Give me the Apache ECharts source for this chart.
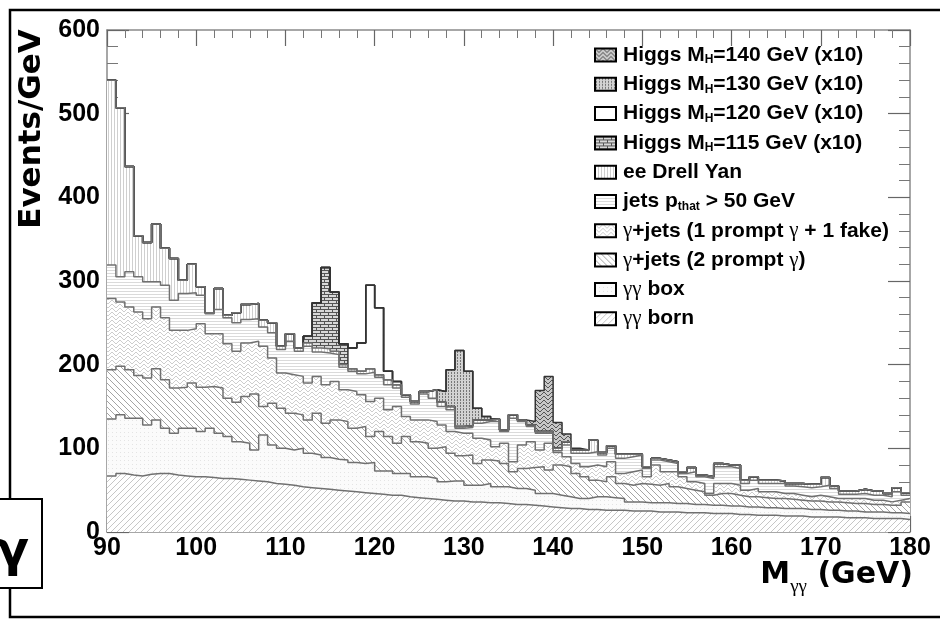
<!DOCTYPE html>
<html><head><meta charset="utf-8">
<script src="https://cdn.jsdelivr.net/npm/echarts/dist/echarts.min.js"></script>
<style>html,body{margin:0;padding:0;background:#fff}#c{width:940px;height:621px}</style>
</head><body><div id="c"></div>
<script>
// ---- DATA (cumulative stack tops, 1 GeV bins from 90 to 180 GeV) ----
const binLow = 90, binWidth = 1;
const xTicks = [90,100,110,120,130,140,150,160,170,180];
const yTicks = [0,100,200,300,400,500,600];

const bornTop = [67,70,68,67,69,70,70,68,67,66,66,65,64,64,63,62,61,60,
 58,57,56,54,53,52,51,50,49,48,47,46,45,44,44,42,41,40,
 39,38,37,37,36,36,35,35,34,33,33,32,31,30,29,28,28,27,
 27,26,26,26,25,25,25,24,24,24,23,23,23,22,22,22,21,21,
 20,20,20,19,19,19,18,18,18,18,17,17,17,16,16,16,16,15];
const boxTop = [135,140,136,136,128,134,124,118,124,124,120,124,118,114,108,106,98,116,
 104,100,98,100,94,92,89,87,86,83,82,83,73,73,70,70,66,66,
 64,60,61,61,56,56,58,54,54,52,52,50,46,46,44,42,40,40,
 42,42,41,40,36,36,35,35,35,34,34,33,33,32,32,31,31,30,
 30,29,29,28,28,28,27,27,26,26,25,25,24,24,24,23,23,22];
const prompt2Top = [194,198,194,187,184,195,182,172,173,178,173,174,172,160,155,162,165,150,
 154,148,142,140,134,142,130,134,132,124,126,114,120,114,106,114,108,106,
 100,102,94,91,92,82,86,85,82,72,76,77,78,74,80,78,70,66,
 62,60,66,58,56,58,57,56,58,54,52,50,48,44,46,46,44,42,
 42,41,40,40,39,38,37,37,36,36,35,34,34,33,33,32,32,36];
const fake1Top = [279,275,269,263,255,269,256,241,241,243,249,237,237,225,216,226,228,222,
 208,190,188,186,178,186,176,180,170,168,164,156,160,146,150,138,134,134,
 132,128,120,118,118,112,110,102,106,84,104,108,98,106,95,90,82,78,
 80,78,84,70,72,74,66,80,72,72,66,60,58,46,58,58,56,50,
 52,48,48,46,46,44,42,44,42,40,40,40,40,38,38,36,38,40];
const jetsTop = [319,305,311,305,299,299,295,277,285,286,283,261,266,256,250,254,255,245,
 238,218,228,216,222,215,214,212,197,192,189,191,185,176,172,161,153,165,
 160,150,146,124,125,130,132,132,120,136,132,126,118,118,97,104,94,94,
 96,92,100,88,90,92,76,86,84,82,70,72,66,64,78,78,76,58,
 62,58,58,58,55,54,53,54,56,52,45,45,46,44,44,42,48,44];
const dyTop = [540,507,437,354,346,368,339,327,301,320,293,262,291,259,262,272,273,253,
 250,222,237,220,226,220,219,216,200,195,192,195,188,182,176,164,156,168,
 170,155,150,126,127,134,134,135,122,140,134,128,120,120,100,108,98,98,
 110,95,103,93,93,93,78,88,86,84,72,77,68,66,82,80,80,62,
 66,62,62,61,58,58,57,57,65,55,49,49,51,49,49,46,53,47];
// Higgs signal stack tops (x10), only bins where they show
const h115Bins = [112,113,114,115,116];
const h115Top  = [234,274,316,287,225];
const h120Bins = [117,118,119,120,121,122];
const h120Top  = [220,226,295,268,192,180];
const h130Bins = [127,128,129,130,131,132];
const h130Top  = [168,194,217,192,148,138];
const h140Bins = [137,138,139,140,141,142];
const h140Top  = [132,169,186,131,117,100];

const names = ['Higgs MH=140 GeV (x10)','Higgs MH=130 GeV (x10)','Higgs MH=120 GeV (x10)','Higgs MH=115 GeV (x10)',
 'ee Drell Yan','jets pthat > 50 GeV','γ+jets (1 prompt γ + 1 fake)','γ+jets (2 prompt γ)','γγ box','γγ born'];
const legendRich = {
 'Higgs MH=140 GeV (x10)':'Higgs M{sub|H}=140 GeV (x10)',
 'Higgs MH=130 GeV (x10)':'Higgs M{sub|H}=130 GeV (x10)',
 'Higgs MH=120 GeV (x10)':'Higgs M{sub|H}=120 GeV (x10)',
 'Higgs MH=115 GeV (x10)':'Higgs M{sub|H}=115 GeV (x10)',
 'ee Drell Yan':'ee Drell Yan',
 'jets pthat > 50 GeV':'jets p{sub|that} > 50 GeV',
 'γ+jets (1 prompt γ + 1 fake)':'{g|γ}+jets (1 prompt {g|γ} + 1 fake)',
 'γ+jets (2 prompt γ)':'{g|γ}+jets (2 prompt {g|γ})',
 'γγ box':'{g|γγ} box',
 'γγ born':'{g|γγ} born'
};

// ---- build stacked tops for signals ----
function overlay(base, bins, tops){
  const out = base.slice();
  bins.forEach((b,i)=>{ out[b-binLow] = tops[i]; });
  return out;
}
const h115Cum = overlay(dyTop, h115Bins, h115Top);
const h120Cum = overlay(h115Cum, h120Bins, h120Top);
const h130Cum = overlay(h120Cum, h130Bins, h130Top);
const h140Cum = overlay(h130Cum, h140Bins, h140Top);

function steps(vals){
  const pts = vals.map((v,i)=>[binLow + i*binWidth, v]);
  pts.push([binLow + vals.length*binWidth, vals[vals.length-1]]);
  return pts;
}

// ---- patterns ----
function makePattern(w,h,bg,fg,test){
  const c=document.createElement('canvas'); c.width=w; c.height=h;
  const g=c.getContext('2d'); g.fillStyle=bg; g.fillRect(0,0,w,h); g.fillStyle=fg;
  for(let y=0;y<h;y++)for(let x=0;x<w;x++) if(test(x,y)) g.fillRect(x,y,1,1);
  return {image:c, repeat:'repeat'};
}
const wave=[0,1,2,3,3,2,1,0];
const pats = [
  makePattern(8,4,'#c8c8c8','#555',(x,y)=>y===wave[x]),                 // H140
  makePattern(3,3,'#d2d2d2','#777',(x,y)=>x===1&&y!==2),                // H130
  makePattern(2,2,'#ffffff','#ffffff',()=>false),                       // H120
  makePattern(8,6,'#d8d8d8','#555',(x,y)=>y===0||y===3||(y<3&&x===0)||(y>3&&x===4)), // H115
  makePattern(3,1,'#ffffff','#cfcfcf',(x)=>x===0),                      // DY
  makePattern(1,3,'#ffffff','#dadada',(x,y)=>y===0),                    // jets
  makePattern(8,4,'#ffffff','#cdcdcd',(x,y)=>y===wave[x]),              // 1 fake
  makePattern(6,6,'#ffffff','#a4a4a4',(x,y)=>(x-y+6)%6===0),            // 2 prompt
  makePattern(4,4,'#fbfbfb','#e4e4e4',(x,y)=>x===0&&y===0),             // box
  makePattern(6,6,'#ffffff','#c6c6c6',(x,y)=>(x+y)%6===0)               // born
];
const tops = [h140Cum,h130Cum,h120Cum,h115Cum,dyTop,jetsTop,fake1Top,prompt2Top,boxTop,bornTop];
const lineCols = ['#333','#333','#333','#333','#707070','#707070','#707070','#707070','#707070','#707070'];

const series = names.map((n,i)=>({
  name:n, type:'line', step:'end', data:steps(tops[i]), showSymbol:false, symbol:'none',
  xAxisIndex:0, yAxisIndex:0,
  lineStyle:{color:lineCols[i], width:1.5},
  itemStyle:{color:pats[i], borderColor:'#000'},
  areaStyle:{color:pats[i], opacity:1},
  emphasis:{disabled:true}, silent:true
}));

const chart = echarts.init(document.getElementById('c'), null, {renderer:'canvas'});
const axisCol = '#8a8a8a';
const lab = {fontFamily:'Liberation Sans', fontWeight:'bold', fontSize:25, color:'#000'};
function xAx(pos, showLab){
  return {type:'value', position:pos, min:xTicks[0], max:xTicks[xTicks.length-1], interval:xTicks[1]-xTicks[0],
    axisLine:{show:true, onZero:false, lineStyle:{color:axisCol, width:1.5}},
    axisTick:{show:true, inside:true, length:16, lineStyle:{color:'#666', width:1.2}},
    minorTick:{show:true, splitNumber:5, length:8, lineStyle:{color:'#777', width:1}},
    splitLine:{show:false}, minorSplitLine:{show:false},
    axisLabel:Object.assign({show:showLab, margin:4}, lab)};
}
function yAx(pos, showLab){
  return {type:'value', position:pos, min:yTicks[0], max:yTicks[yTicks.length-1], interval:yTicks[1]-yTicks[0],
    axisLine:{show:true, onZero:false, lineStyle:{color:axisCol, width:1.5}},
    axisTick:{show:true, inside:true, length:22, lineStyle:{color:'#666', width:1.2}},
    minorTick:{show:true, splitNumber:5, length:11, lineStyle:{color:'#777', width:1}},
    splitLine:{show:false}, minorSplitLine:{show:false},
    axisLabel:Object.assign({show:showLab, margin:7}, lab)};
}

chart.setOption({
  animation:false,
  backgroundColor:'#fff',
  grid:{left:107, right:30, top:30, bottom:89, containLabel:false, outerBoundsMode:'none'},
  xAxis:[xAx('bottom',true), xAx('top',false)],
  yAxis:[yAx('left',true), yAx('right',false)],
  legend:{
    orient:'vertical', left:589, top:39, itemWidth:21, itemHeight:13, itemGap:7.3, icon:'rect',
    selectedMode:false,
    data:names.map((n,i)=>({name:n, itemStyle:{color:pats[i], borderColor:'#000', borderWidth:2}})),
    formatter:(n)=>legendRich[n],
    textStyle:{fontFamily:'Liberation Sans', fontWeight:'bold', fontSize:21, color:'#000', lineHeight:22, padding:[0,0,0,2],
      rich:{
        sub:{fontFamily:'Liberation Sans', fontWeight:'bold', fontSize:12, color:'#000', verticalAlign:'bottom', lineHeight:12},
        g:{fontFamily:'Liberation Serif', fontWeight:'normal', fontSize:21, color:'#000', lineHeight:22}
      }}
  },
  title:{
    text:'{m|M}{s|γγ}{m| (GeV)}', right:27, top:553, padding:0,
    textStyle:{rich:{
      m:{fontFamily:'DejaVu Sans', fontWeight:'bold', fontSize:30, color:'#000', lineHeight:44},
      s:{fontFamily:'Liberation Serif', fontWeight:'normal', fontSize:19, color:'#000', verticalAlign:'bottom', lineHeight:19}
    }}
  },
  graphic:[
    {type:'rect', shape:{x:10,y:10,width:945,height:607}, style:{fill:'none', stroke:'#000', lineWidth:2.5}, z:100, silent:true},
    {type:'text', x:32, y:129, rotation:Math.PI/2, style:{text:'Events/GeV', font:'bold 31px "DejaVu Sans"', fill:'#000', align:'center', verticalAlign:'middle'}, z:100},
    {type:'rect', shape:{x:-5,y:499,width:47,height:89}, style:{fill:'#fff', stroke:'#000', lineWidth:2}, z:101, silent:true},
    {type:'text', x:12, y:553, style:{text:'γ', font:'bold 50px "DejaVu Sans"', fill:'#000', align:'center', verticalAlign:'middle'}, z:102}
  ],
  series:series
});
</script></body></html>
